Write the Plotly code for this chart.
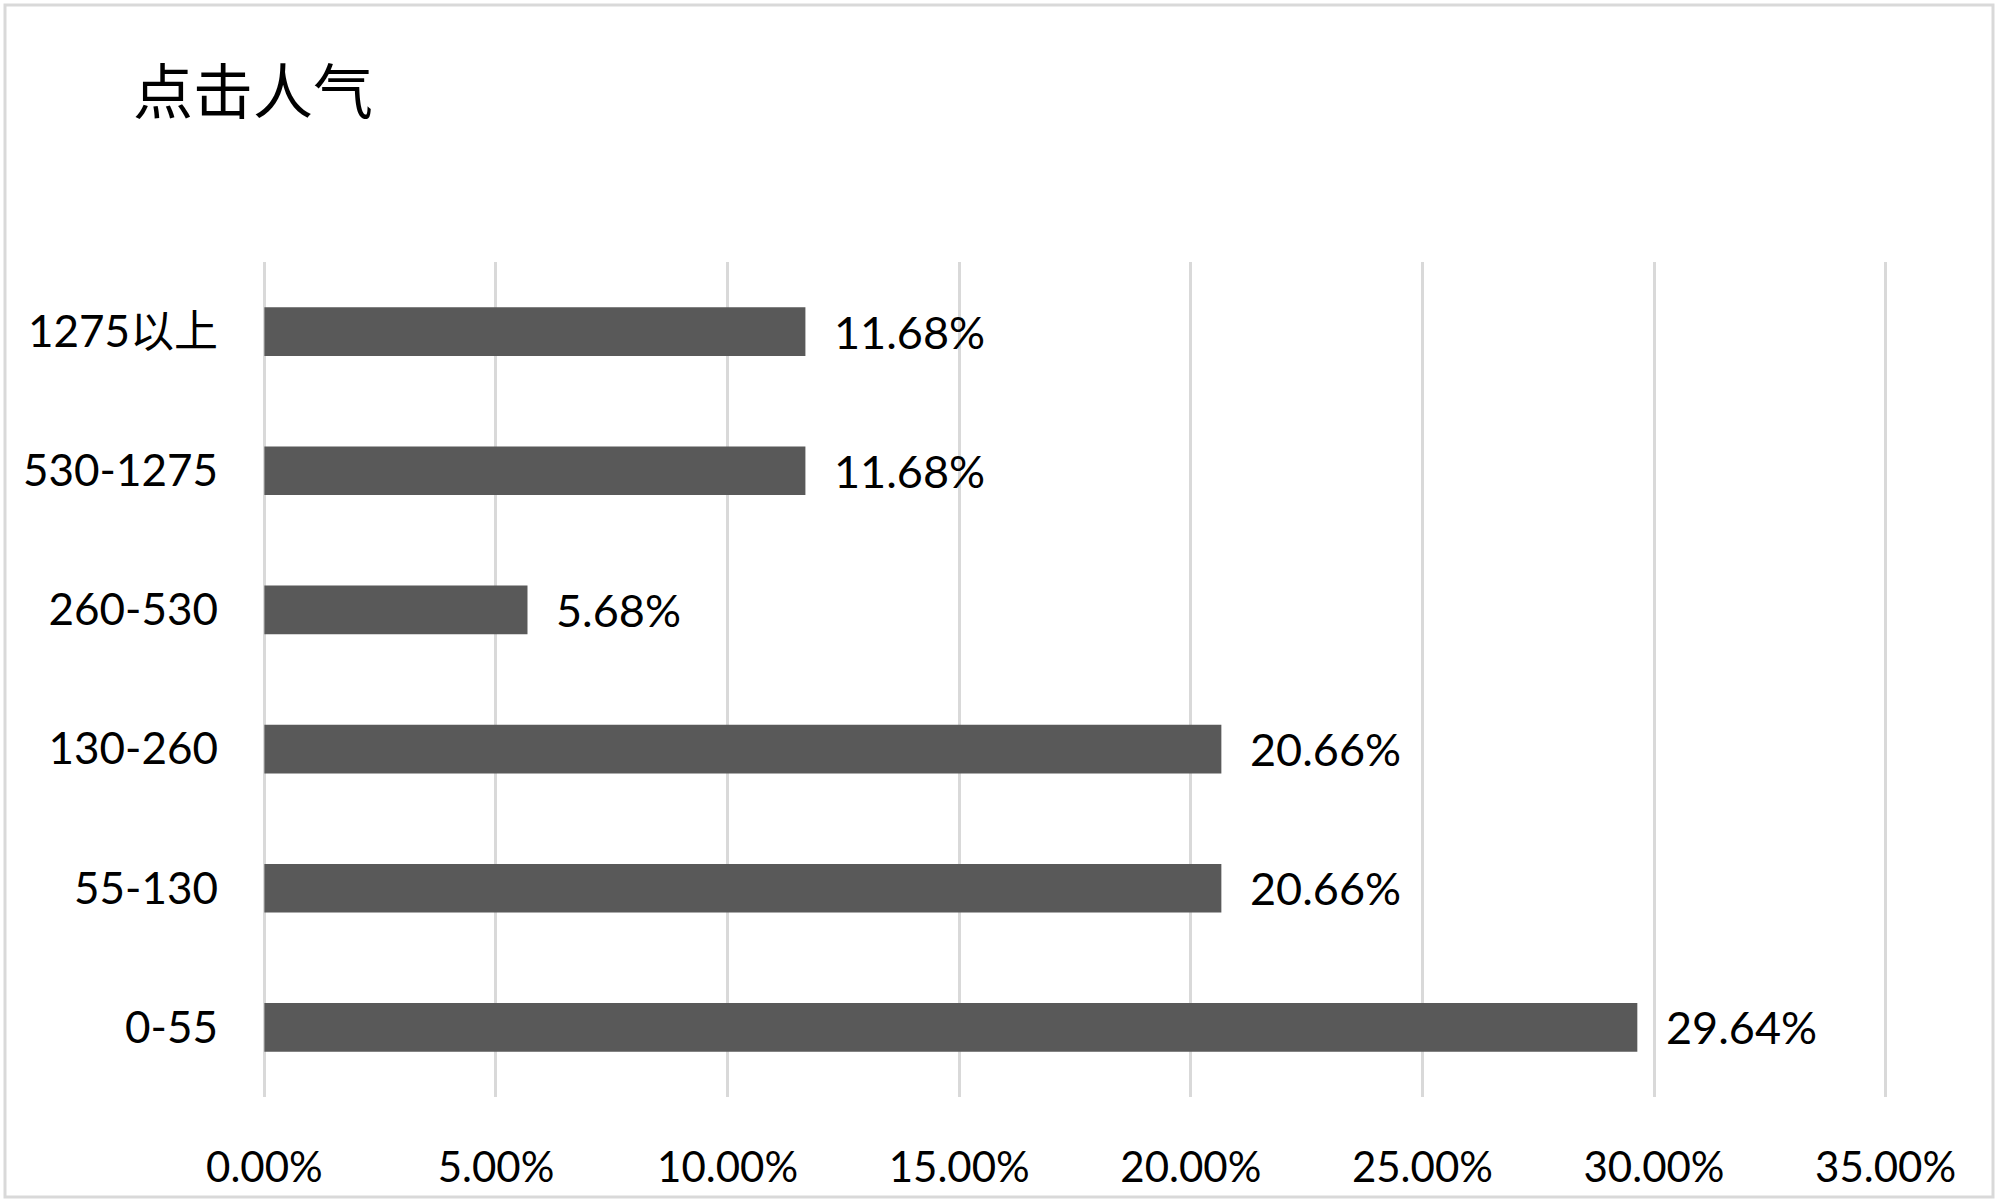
import plotly.graph_objects as go

categories = ["0-55", "55-130", "130-260", "260-530", "530-1275", "1275以上"]
values = [29.64, 20.66, 20.66, 5.68, 11.68, 11.68]
x_ticks = [0, 5, 10, 15, 20, 25, 30, 35]
x_tick_labels = ["0.00%", "5.00%", "10.00%", "15.00%", "20.00%", "25.00%", "30.00%", "35.00%"]
title_text = "点击人气"

FONT = "Lato, 'Noto Sans CJK SC', sans-serif"
W, H = 2000, 1203
L, R, T, B = 263, 113, 262, 106

fig = go.Figure()
fig.add_trace(go.Bar(
    y=categories, x=values, orientation="h",
    marker=dict(color="#595959", line=dict(width=0)),
    hoverinfo="skip",
))

for c, v in zip(categories, values):
    fig.add_annotation(
        x=v, y=c, xref="x", yref="y", text=f"{v:.2f}%",
        showarrow=False, xanchor="left", yanchor="middle", xshift=27, yshift=0,
        font=dict(family=FONT, size=45, color="#000000"),
    )

pw = W - L - R
ph = H - T - B
fig.add_shape(
    type="rect", xref="paper", yref="paper",
    x0=(5 - L) / pw, x1=(1993 - L) / pw,
    y0=(H - B - 1197) / ph, y1=(H - B - 5) / ph,
    line=dict(color="#d9d9d9", width=3), fillcolor="rgba(0,0,0,0)", layer="below",
)

fig.update_layout(
    width=W, height=H,
    margin=dict(l=L, r=R, t=T, b=B),
    paper_bgcolor="white", plot_bgcolor="white",
    bargap=0.65,
    showlegend=False,
    title=dict(
        text=title_text, xref="container", yref="container",
        x=133 / W, xanchor="left", y=1 - 93 / H, yanchor="middle",
        font=dict(family="'Noto Sans CJK SC', sans-serif", size=60, color="#000000"),
    ),
    xaxis=dict(
        range=[-0.03, 35.03], tickvals=x_ticks, ticktext=x_tick_labels,
        showgrid=True, gridcolor="#d9d9d9", gridwidth=3,
        zeroline=True, zerolinecolor="#d9d9d9", zerolinewidth=3,
        showline=False, ticks="",
        ticklabelstandoff=42,
        tickfont=dict(family=FONT, size=42, color="#000000"),
        fixedrange=True,
    ),
    yaxis=dict(
        categoryorder="array", categoryarray=categories,
        showgrid=False, zeroline=False, showline=False, ticks="",
        ticklabelstandoff=44,
        tickfont=dict(family=FONT, size=44, color="#000000"),
        fixedrange=True,
    ),
)

fig.write_html(
    "out.html",
    config={"displayModeBar": False},
    post_script="document.body.style.margin='0';document.body.style.overflow='hidden';",
)
